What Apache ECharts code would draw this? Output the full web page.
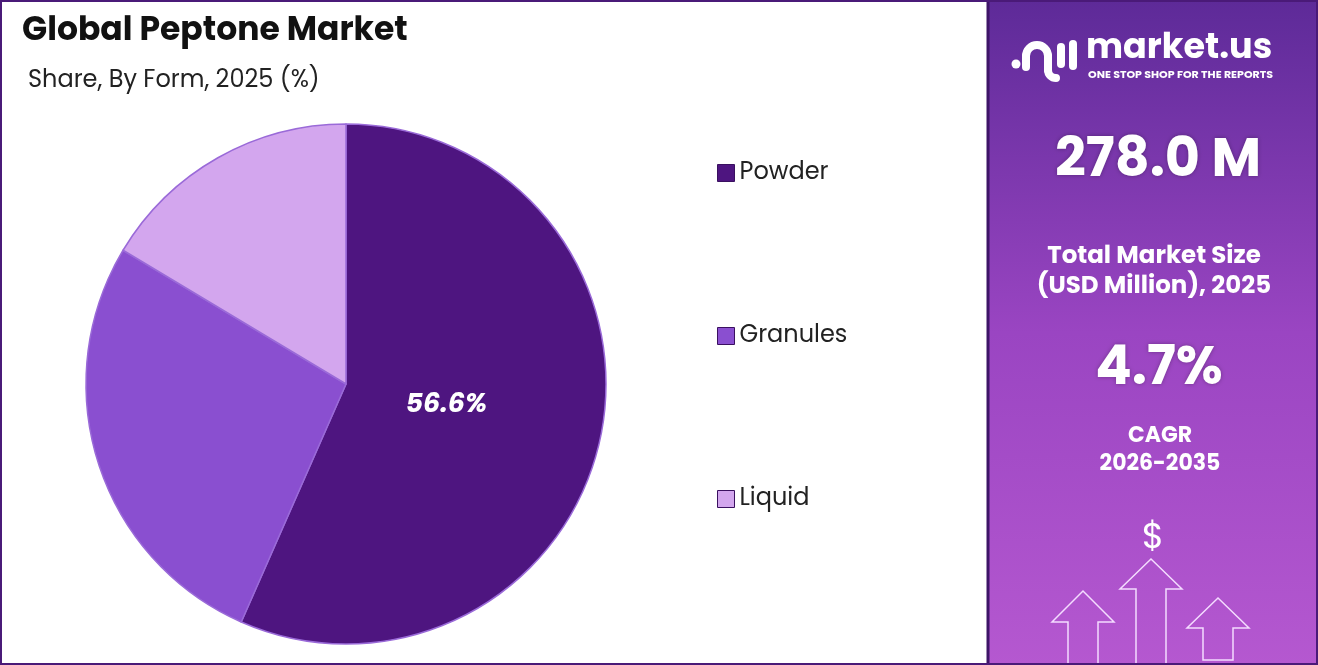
<!DOCTYPE html>
<html><head><meta charset="utf-8">
<script src="https://cdn.jsdelivr.net/npm/echarts@6/dist/echarts.min.js"></script>
<style>html,body{margin:0;padding:0;background:#fff}#c{width:1318px;height:665px}</style>
</head><body><div id="c"></div>
<script>
const categories = ['Powder', 'Granules', 'Liquid'];
const values = [56.6, 27.0, 16.4];
const colors = ['#4e1580', '#8a4fd0', '#d3a6ee'];
const F = 'Poppins, "Noto Sans", Roboto, sans-serif';
const chart = echarts.init(document.getElementById('c'));
function arrow(tx, ty, hb, half, sh, bot, closed) {
  const p = [[tx - sh, bot], [tx - sh, hb], [tx - half, hb], [tx, ty], [tx + half, hb], [tx + sh, hb], [tx + sh, bot]];
  return { type: closed ? 'polygon' : 'polyline', shape: { points: p }, style: { stroke: '#f4dcff', fill: closed ? 'none' : null, lineWidth: 1.5 }, z: 10 };
}
const W = { stroke: '#fff', lineWidth: 8, lineCap: 'round', fill: null };
chart.setOption({
  animation: false,
  title: [
    { text: 'Global Peptone Market', left: 17, top: 10, textStyle: { fontFamily: F, fontSize: 33, fontWeight: 'bold', color: '#111' } },
    { text: 'Share, By Form, 2025 (%)', left: 23, top: 64, textStyle: { fontFamily: F, fontSize: 24, fontWeight: 'normal', color: '#222' } }
  ],
  legend: {
    orient: 'vertical', left: 712, top: 156, itemGap: 139, itemWidth: 17, itemHeight: 17,
    icon: 'rect', data: categories,
    textStyle: { fontFamily: F, fontSize: 24, color: '#222', padding: [0, 0, 0, 0] },
    itemStyle: { borderColor: '#3a1060', borderWidth: 1 }
  },
  series: [{
    type: 'pie', center: [346, 384], radius: 260, startAngle: 90, clockwise: true,
    data: categories.map((n, i) => ({ name: n, value: values[i], itemStyle: { color: colors[i] },
      label: i === 0 ? { show: true, position: 'inside', formatter: '{d}%', offset: [-30, -6] } : { show: false } })),
    label: { fontFamily: F, fontSize: 27, fontWeight: 'bold', fontStyle: 'italic', color: '#fff' },
    labelLine: { show: false },
    itemStyle: { borderColor: '#9a6ad8', borderWidth: 1.5 }
  }],
  graphic: [
    { type: 'rect', shape: { x: 1, y: 1, width: 1316, height: 663 }, style: { fill: 'none', stroke: '#4a1a78', lineWidth: 2 }, z: 20 },
    { type: 'rect', shape: { x: 988, y: 0, width: 330, height: 665 }, style: {
      fill: new echarts.graphic.LinearGradient(0, 0, 0, 1, [{ offset: 0, color: '#5d2a98' }, { offset: 0.5, color: '#9a45c2' }, { offset: 1, color: '#b558d0' }]),
      stroke: '#3e1468', lineWidth: 3 }, z: 1 },
    { type: 'circle', shape: { cx: 1016, cy: 64, r: 4.5 }, style: { fill: '#fff' }, z: 10 },
    { type: 'line', shape: { x1: 1026, y1: 67, x2: 1026, y2: 56 }, style: W, z: 10 },
    { type: 'arc', shape: { cx: 1037, cy: 56, r: 11, startAngle: Math.PI, endAngle: 2 * Math.PI, clockwise: true }, style: W, z: 10 },
    { type: 'line', shape: { x1: 1048, y1: 56, x2: 1048, y2: 70 }, style: W, z: 10 },
    { type: 'arc', shape: { cx: 1056, cy: 70, r: 8, startAngle: Math.PI, endAngle: Math.PI / 2, clockwise: false }, style: W, z: 10 },
    { type: 'line', shape: { x1: 1061, y1: 47, x2: 1061, y2: 64 }, style: W, z: 10 },
    { type: 'line', shape: { x1: 1073, y1: 44, x2: 1073, y2: 66 }, style: W, z: 10 },
    { type: 'text', x: 1086, y: 32, style: { text: 'market.us', font: 'bold 35px ' + F, fill: '#fff' }, z: 10 },
    { type: 'text', x: 1088, y: 70, style: { text: 'ONE STOP SHOP FOR THE REPORTS', font: 'bold 11px ' + F, fill: '#fff' }, z: 10 },
    { type: 'text', x: 1158, y: 162, style: { text: '278.0 M', font: 'bold 54px ' + F, fill: '#fff', align: 'center', verticalAlign: 'middle', textShadowColor: 'rgba(0,0,0,0.3)', textShadowBlur: 4 }, z: 10 },
    { type: 'text', x: 1154, y: 272, style: { text: 'Total Market Size\n(USD Million), 2025', font: 'bold 24.5px ' + F, lineHeight: 30, fill: '#fff', align: 'center', verticalAlign: 'middle' }, z: 10 },
    { type: 'text', x: 1159, y: 370, style: { text: '4.7%', font: 'bold 54px ' + F, fill: '#fff', align: 'center', verticalAlign: 'middle', textShadowColor: 'rgba(0,0,0,0.3)', textShadowBlur: 4 }, z: 10 },
    { type: 'text', x: 1160, y: 450, style: { text: 'CAGR\n2026-2035', font: 'bold 22px ' + F, lineHeight: 28, fill: '#fff', align: 'center', verticalAlign: 'middle' }, z: 10 },
    { type: 'text', x: 1153, y: 539, style: { text: '$', font: '36px ' + F, fill: '#fff', align: 'center', verticalAlign: 'middle' }, z: 10 },
    arrow(1083, 591, 622, 31, 15, 665, false),
    arrow(1151, 559, 589, 31, 15, 665, false),
    arrow(1218, 598, 628, 31, 15, 660, true)
  ]
});
</script></body></html>
